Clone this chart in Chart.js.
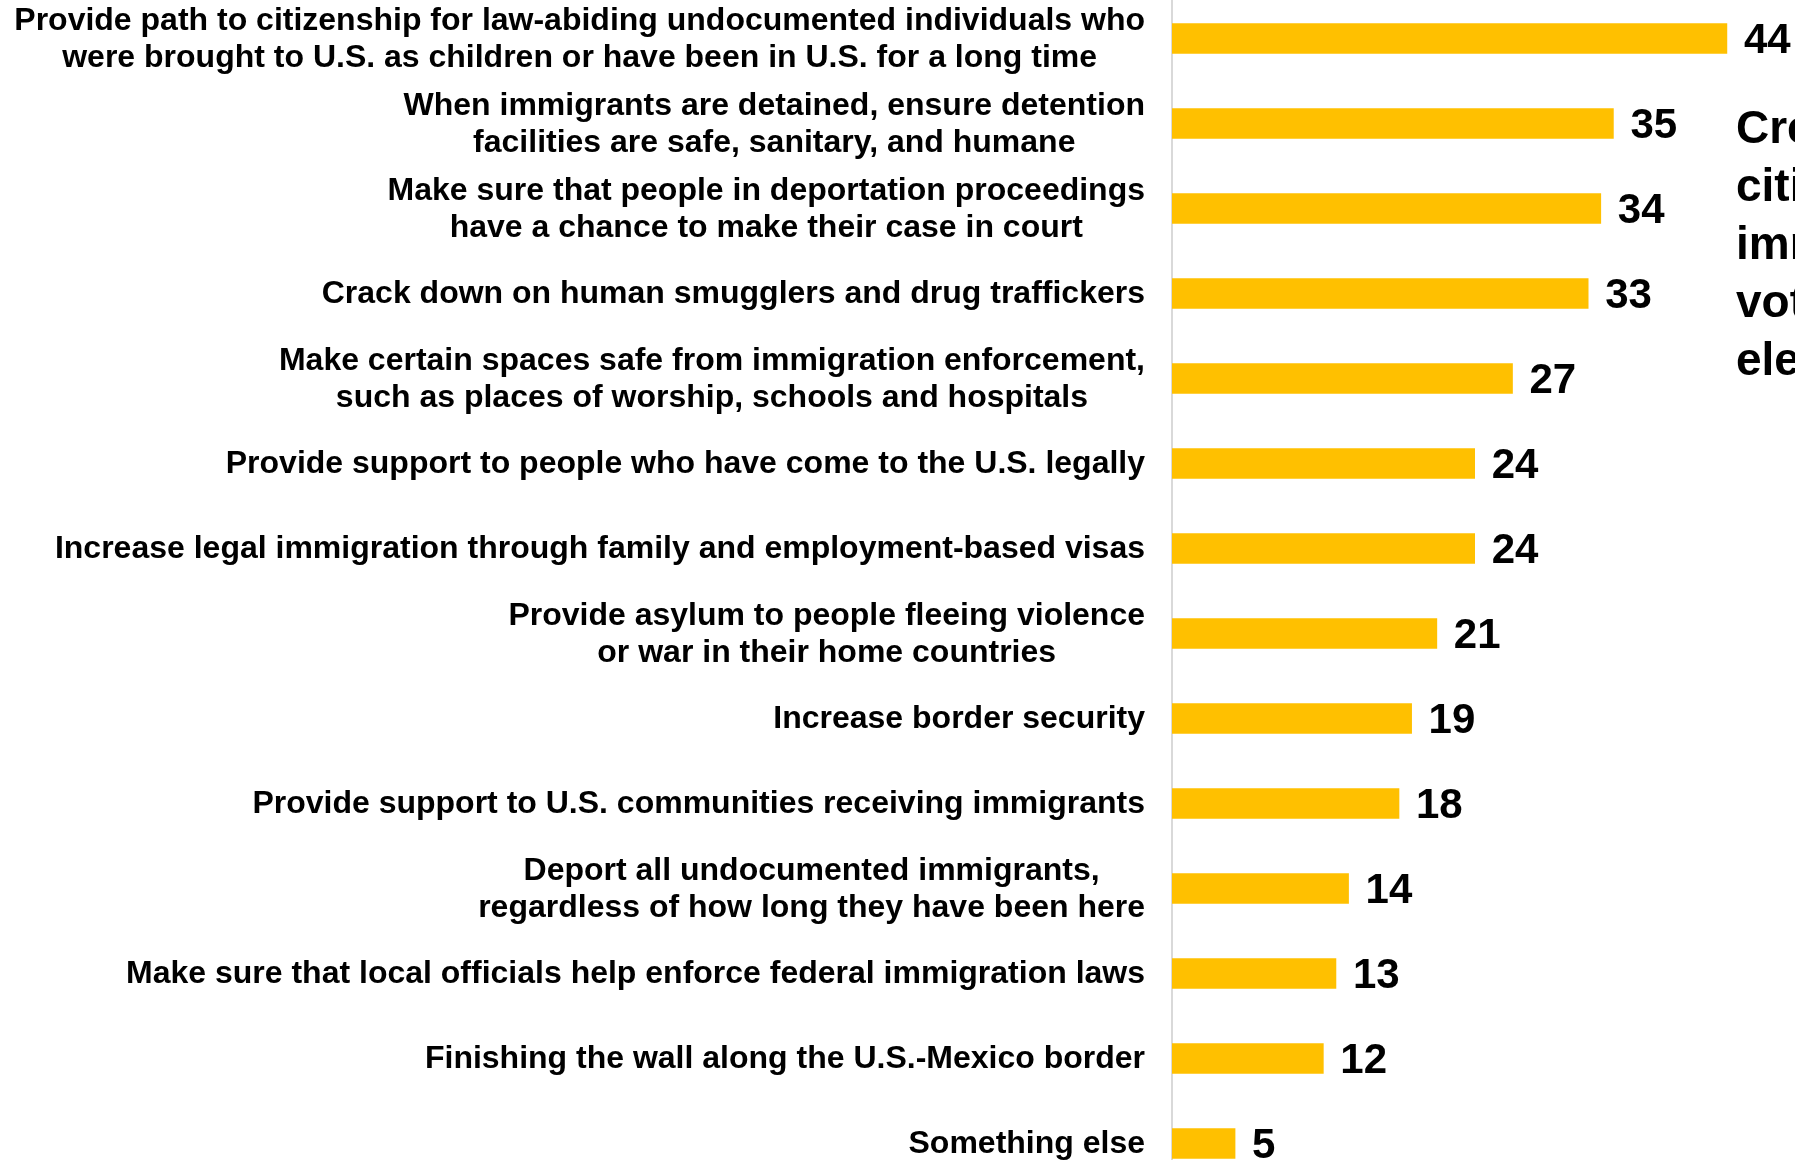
<!DOCTYPE html>
<html>
<head>
<meta charset="utf-8">
<script src="https://cdn.jsdelivr.net/npm/chart.js@4/dist/chart.umd.min.js"></script>
<style>
  html, body { margin: 0; padding: 0; background: #ffffff; overflow: hidden; width: 1795px; height: 1160px; }
  #wrap { position: absolute; left: 0; top: -4px; width: 1795px; height: 1190px; }
</style>
</head>
<body>
<div id="wrap"><canvas id="c" width="1795" height="1190"></canvas></div>
<script>
const categories = [
  ["Provide path to citizenship for law-abiding undocumented individuals who", "were brought to U.S. as children or have been in U.S. for a long time"],
  ["When immigrants are detained, ensure detention", "facilities are safe, sanitary, and humane"],
  ["Make sure that people in deportation proceedings", "have a chance to make their case in court"],
  ["Crack down on human smugglers and drug traffickers"],
  ["Make certain spaces safe from immigration enforcement,", "such as places of worship, schools and hospitals"],
  ["Provide support to people who have come to the U.S. legally"],
  ["Increase legal immigration through family and employment-based visas"],
  ["Provide asylum to people fleeing violence", "or war in their home countries"],
  ["Increase border security"],
  ["Provide support to U.S. communities receiving immigrants"],
  ["Deport all undocumented immigrants,", "regardless of how long they have been here"],
  ["Make sure that local officials help enforce federal immigration laws"],
  ["Finishing the wall along the U.S.-Mexico border"],
  ["Something else"]
];
const values = [44, 35, 34, 33, 27, 24, 24, 21, 19, 18, 14, 13, 12, 5];
const sideNote = ["Creating a path to", "citizenship for", "immigrants is a top", "voters' priority this", "election"];

const FONT = '"Liberation Sans", Arial, Helvetica, sans-serif';
const PAGE_OFFSET = 4; // canvas is shifted up by this many pixels

const labelPlugin = {
  id: 'labelPlugin',
  afterDatasetsDraw(chart) {
    const ctx = chart.ctx;
    const yScale = chart.scales.y;
    const area = chart.chartArea;
    ctx.save();
    // category labels (centered blocks, right-aligned to axis)
    ctx.fillStyle = '#000000';
    ctx.font = 'bold 32px ' + FONT;
    ctx.textBaseline = 'middle';
    ctx.textAlign = 'center';
    const lineH = 36.6;
    categories.forEach((lines, i) => {
      const y = yScale.getPixelForValue(i) + 1;
      let maxW = 0;
      lines.forEach(l => { maxW = Math.max(maxW, ctx.measureText(l).width); });
      const right = area.left - 27;
      const cx = right - maxW / 2;
      lines.forEach((l, j) => {
        ctx.fillText(l, cx, y + (j - (lines.length - 1) / 2) * lineH);
      });
    });
    // value labels
    ctx.font = 'bold 42px ' + FONT;
    ctx.textAlign = 'left';
    const meta = chart.getDatasetMeta(0);
    meta.data.forEach((bar, i) => {
      ctx.fillText(String(values[i]), bar.x + 17, bar.y + 3);
    });
    // side note (cropped at right edge)
    ctx.font = 'bold 46px ' + FONT;
    ctx.textBaseline = 'alphabetic';
    sideNote.forEach((l, j) => {
      ctx.fillText(l, 1736, PAGE_OFFSET + 143 + j * 58);
    });
    ctx.restore();
  }
};

new Chart(document.getElementById('c'), {
  type: 'bar',
  data: {
    labels: categories,
    datasets: [{
      data: values,
      backgroundColor: '#FFC000',
      borderWidth: 0,
      barThickness: 30
    }]
  },
  options: {
    indexAxis: 'y',
    responsive: false,
    animation: false,
    devicePixelRatio: 1,
    layout: { padding: 0 },
    plugins: {
      legend: { display: false },
      tooltip: { enabled: false }
    },
    scales: {
      x: {
        display: false,
        min: 0,
        max: 49.4
      },
      y: {
        display: true,
        ticks: { display: false },
        grid: { display: false },
        border: { display: true, color: '#d9d9d9', width: 2 },
        afterFit: (s) => { s.width = 1172; }
      }
    }
  },
  plugins: [labelPlugin]
});
</script>
</body>
</html>
